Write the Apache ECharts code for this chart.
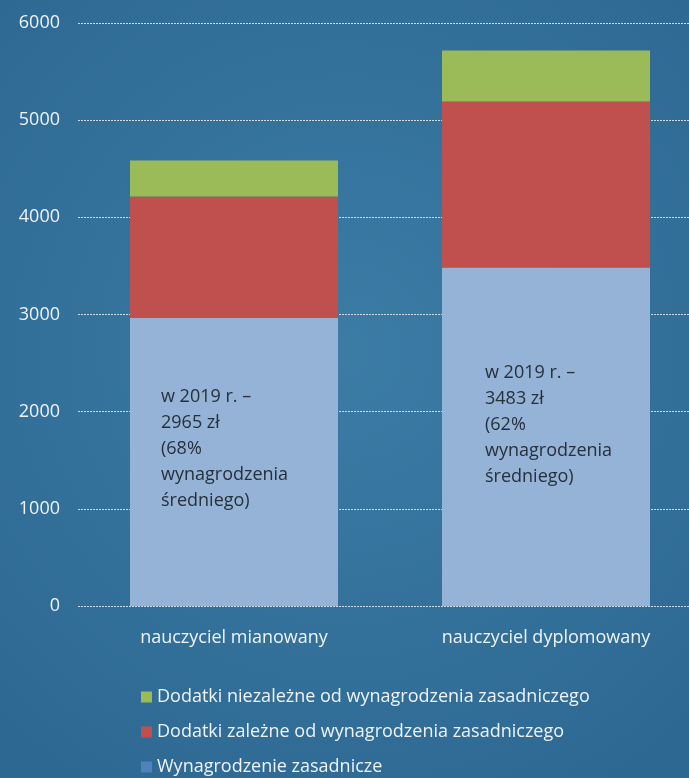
<!DOCTYPE html>
<html><head><meta charset="utf-8">
<script src="https://cdn.jsdelivr.net/npm/echarts@6/dist/echarts.min.js"></script>
<style>html,body{margin:0;padding:0;background:#33729c;}#c{width:689px;height:778px;}</style>
</head><body><div id="c"></div>
<script>
const categories = ['nauczyciel mianowany', 'nauczyciel dyplomowany'];
const baseSalary = [2965, 3483];
const dependentAllowances = [1250, 1709];
const independentAllowances = [370, 525];
const seriesNames = ['Wynagrodzenie zasadnicze', 'Dodatki zależne od wynagrodzenia zasadniczego', 'Dodatki niezależne od wynagrodzenia zasadniczego'];
const barNotes = ['w 2019 r. –\n2965 zł\n(68%\nwynagrodzenia\nśredniego)', 'w 2019 r. –\n3483 zł\n(62%\nwynagrodzenia\nśredniego)'];
const yTicks = { min: 0, max: 6000, interval: 1000 };

const FONT = '"Open Sans", "Noto Sans", sans-serif';
const chart = echarts.init(document.getElementById('c'), null, { renderer: 'canvas' });
const notePos = [[31, 66], [43, 92]];
chart.setOption({
  backgroundColor: {
    type: 'radial', x: 0.5, y: 0.45, r: 0.75,
    colorStops: [{ offset: 0, color: '#3b7ca5' }, { offset: 1, color: '#2d6892' }]
  },
  animation: false,
  grid: { left: 78, width: 624, top: 23, height: 583, containLabel: false, outerBoundsMode: 'none' },
  legend: {
    orient: 'vertical', left: 141, top: 688, itemWidth: 11, itemHeight: 11, itemGap: 17,
    padding: 0, icon: 'rect',
    textStyle: { color: '#eef3f8', fontSize: 18, lineHeight: 18, fontFamily: FONT },
    data: [
      { name: seriesNames[2], itemStyle: { color: '#9bbb59' } },
      { name: seriesNames[1], itemStyle: { color: '#c0504d' } },
      { name: seriesNames[0], itemStyle: { color: '#4f81bd' } }
    ]
  },
  xAxis: {
    type: 'category', data: categories,
    axisLine: { show: false }, axisTick: { show: false },
    axisLabel: { color: '#eef3f8', fontSize: 18, fontFamily: FONT, margin: 23 }
  },
  yAxis: {
    type: 'value', min: yTicks.min, max: yTicks.max, interval: yTicks.interval,
    axisLine: { show: false }, axisTick: { show: false },
    axisLabel: { color: '#eef3f8', fontSize: 18, fontFamily: FONT, margin: 18, formatter: v => String(v) },
    splitLine: { lineStyle: { color: '#cfd9e3', width: 1, type: [2, 1] } }
  },
  series: [
    {
      name: seriesNames[0], type: 'bar', stack: 's', barWidth: 208,
      itemStyle: { color: '#95b3d7' },
      data: baseSalary.map((v, i) => ({
        value: v,
        label: {
          show: true, position: notePos[i], align: 'left', verticalAlign: 'top',
          formatter: barNotes[i], color: '#26303b', fontSize: 18, lineHeight: 26, fontFamily: FONT
        }
      }))
    },
    { name: seriesNames[1], type: 'bar', stack: 's', barWidth: 208, itemStyle: { color: '#c0504d' }, data: dependentAllowances },
    { name: seriesNames[2], type: 'bar', stack: 's', barWidth: 208, itemStyle: { color: '#9bbb59' }, data: independentAllowances }
  ]
});
</script></body></html>
